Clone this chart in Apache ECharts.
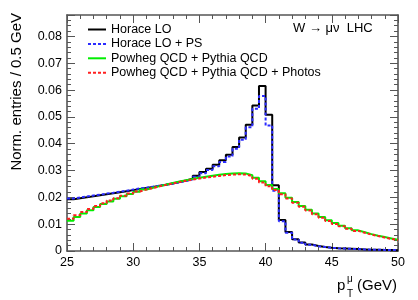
<!DOCTYPE html>
<html><head><meta charset="utf-8">
<script src="https://cdn.jsdelivr.net/npm/echarts@6/dist/echarts.min.js"></script>
<style>html,body{margin:0;padding:0;background:#fff}#c{width:418px;height:300px}</style>
</head><body><div id="c"></div>
<script>
const binStart = 25, binWidth = 0.5;
const xTicks = [25, 30, 35, 40, 45, 50];
const yTicks = [0, 0.01, 0.02, 0.03, 0.04, 0.05, 0.06, 0.07, 0.08];
const seriesNames = ['Horace LO', 'Horace LO + PS', 'Powheg QCD + Pythia QCD', 'Powheg QCD + Pythia QCD + Photos'];
const horaceLO = [0.0193,0.0197,0.0200,0.0204,0.0208,0.0212,0.0215,0.0219,0.0223,0.0227,
 0.0231,0.0235,0.0239,0.0243,0.0247,0.0252,0.0257,0.0263,0.0270,0.0281,
 0.0295,0.0307,0.0322,0.0338,0.0359,0.0388,0.0423,0.0471,0.0543,0.0615,
 0.0508,0.0245,0.0116,0.0071,0.0044,0.0032,0.0024,0.0019,0.0015,0.0012,
 0.0010,0.0009,0.0008,0.0007,0.0006,0.0005,0.0005,0.0004,0.0004,0.0003];
const horacePS = [0.0196,0.0200,0.0203,0.0207,0.0210,0.0214,0.0217,0.0221,0.0225,0.0229,
 0.0233,0.0236,0.0240,0.0244,0.0248,0.0252,0.0256,0.0261,0.0267,0.0277,
 0.0290,0.0302,0.0316,0.0332,0.0352,0.0381,0.0415,0.0461,0.0530,0.0578,
 0.0468,0.0225,0.0111,0.0068,0.0043,0.0031,0.0023,0.0018,0.0015,0.0012,
 0.0010,0.0009,0.0008,0.0007,0.0006,0.0005,0.0005,0.0004,0.0004,0.0003];
const powheg = [0.0113,0.0127,0.0140,0.0152,0.0164,0.0175,0.0185,0.0195,0.0204,0.0213,
 0.0221,0.0229,0.0236,0.0242,0.0248,0.0254,0.0259,0.0264,0.0269,0.0273,
 0.0277,0.0281,0.0284,0.0287,0.0289,0.0290,0.0289,0.0283,0.0273,0.0260,
 0.0246,0.0231,0.0215,0.0199,0.0183,0.0168,0.0154,0.0140,0.0127,0.0115,
 0.0104,0.0094,0.0085,0.0077,0.0070,0.0063,0.0057,0.0052,0.0047,0.0042];
const powhegPhotos = [0.0120,0.0133,0.0145,0.0157,0.0168,0.0178,0.0188,0.0197,0.0206,0.0214,
 0.0222,0.0229,0.0235,0.0241,0.0247,0.0252,0.0257,0.0262,0.0266,0.0270,
 0.0274,0.0277,0.0280,0.0283,0.0285,0.0286,0.0285,0.0279,0.0269,0.0255,
 0.0241,0.0227,0.0212,0.0196,0.0180,0.0165,0.0151,0.0137,0.0124,0.0112,
 0.0101,0.0092,0.0083,0.0075,0.0068,0.0061,0.0056,0.0050,0.0045,0.0041];

function histData(vals) {
  const d = vals.map((v, i) => [binStart + i * binWidth, v]);
  d.push([binStart + vals.length * binWidth, vals[vals.length - 1]]);
  return d;
}
const FONT = 'Liberation Sans, Arial, Helvetica, sans-serif';
const frameColor = '#555';
const chart = echarts.init(document.getElementById('c'), null, {renderer: 'canvas'});
const styles = [
  {color: '#000000', type: 'solid'},
  {color: '#2b2bff', type: [3, 2]},
  {color: '#00ee00', type: 'solid'},
  {color: '#ff2020', type: [3, 2]}
];
const datasets = [horaceLO, horacePS, powheg, powhegPhotos];
const axisCommon = {
  axisLine: {show: true, onZero: false, lineStyle: {color: frameColor, width: 1.6}},
  splitLine: {show: false}
};
const tickCommon = {
  axisTick: {show: true, inside: true, length: 8, lineStyle: {color: frameColor, width: 1}},
  minorTick: {show: true, splitNumber: 5, length: 4, lineStyle: {color: frameColor, width: 1}}
};
chart.setOption({
  animation: false,
  grid: {left: 67, right: 20, top: 15, bottom: 49, show: false},
  legend: {
    orient: 'vertical', left: 87, top: 23, padding: 0, itemWidth: 18, itemHeight: 12, itemGap: 1.4,
    data: seriesNames,
    itemStyle: {opacity: 0},
    textStyle: {fontFamily: FONT, fontSize: 12.5, color: '#000', lineHeight: 12},
    selectedMode: false
  },
  xAxis: [
    Object.assign({}, axisCommon, tickCommon, {
      type: 'value', min: xTicks[0], max: xTicks[xTicks.length - 1], interval: 5, position: 'bottom',
      axisLabel: {show: true, margin: 5, fontFamily: FONT, fontSize: 12.5, color: '#000'}
    }),
    Object.assign({}, axisCommon, tickCommon, {
      type: 'value', min: xTicks[0], max: xTicks[xTicks.length - 1], interval: 5, position: 'top',
      axisLabel: {show: false}
    })
  ],
  yAxis: [
    Object.assign({}, axisCommon, tickCommon, {
      type: 'value', min: 0, max: 0.088, interval: 0.01, position: 'left',
      axisLabel: {show: true, margin: 5, fontFamily: FONT, fontSize: 12.5, color: '#000',
        showMaxLabel: false,
        formatter: v => { const t = yTicks.find(y => Math.abs(y - v) < 1e-9); return t === undefined ? '' : (t === 0 ? '0' : t.toFixed(2)); }}
    }),
    Object.assign({}, axisCommon, tickCommon, {
      type: 'value', min: 0, max: 0.088, interval: 0.01, position: 'right',
      axisLabel: {show: false}
    })
  ],
  series: datasets.map((vals, i) => ({
    name: seriesNames[i], type: 'line', step: 'end', data: histData(vals),
    symbol: 'none', showSymbol: false, xAxisIndex: 0, yAxisIndex: 0,
    lineStyle: {color: styles[i].color, width: 2, type: styles[i].type},
    itemStyle: {color: styles[i].color}
  })),
  graphic: [
    {type: 'text', left: 293, top: 22, style: {text: 'W \u2192 \u03bc\u03bd  LHC', font: '13px ' + FONT, fill: '#000'}},
    {type: 'text', x: 17, y: 13, rotation: Math.PI / 2,
      style: {text: 'Norm. entries / 0.5 GeV', font: '15px ' + FONT, fill: '#000', align: 'right', verticalAlign: 'middle'}},
    {type: 'text', x: 337, y: 286, style: {text: 'p', font: '15px ' + FONT, fill: '#000', align: 'left', verticalAlign: 'middle'}},
    {type: 'text', x: 347, y: 279, style: {text: '\u03bc', font: '10px ' + FONT, fill: '#000', align: 'left', verticalAlign: 'middle'}},
    {type: 'text', x: 347, y: 294, style: {text: 'T', font: '10px ' + FONT, fill: '#000', align: 'left', verticalAlign: 'middle'}},
    {type: 'text', x: 397, y: 286, style: {text: '(GeV)', font: '15px ' + FONT, fill: '#000', align: 'right', verticalAlign: 'middle'}}
  ]
});
</script></body></html>
